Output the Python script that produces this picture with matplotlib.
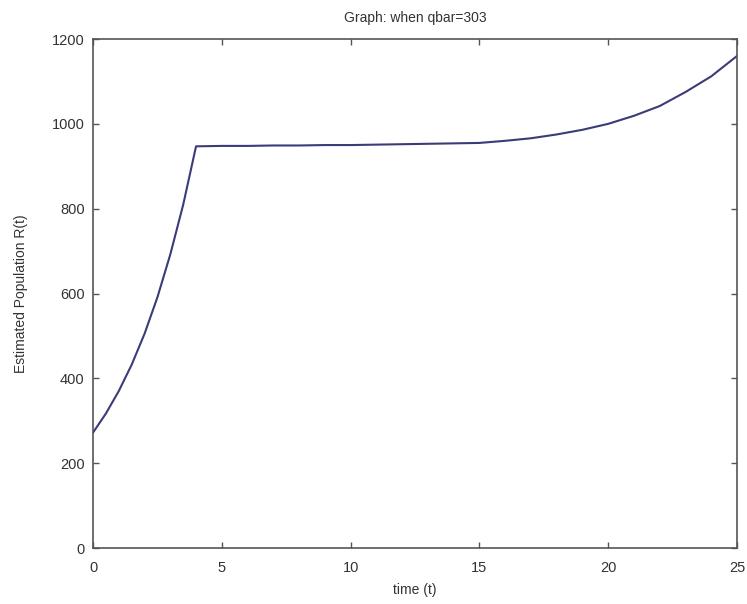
import matplotlib
matplotlib.use("Agg")
import matplotlib.pyplot as plt

# values
t_vals = [0, 0.5, 1, 1.5, 2, 2.5, 3, 3.5, 4,
          5, 6, 7, 8, 9, 10, 11, 12, 13, 14,
          15, 16, 17, 18, 19, 20, 21, 22, 23, 24, 25]
R_vals = [272, 317, 370, 432, 505, 591, 692, 809, 947,
          948, 948, 949, 949, 950, 950, 951, 952, 953, 954,
          955, 960, 966, 975, 986, 1000, 1019, 1042, 1075, 1112, 1160]

xticks = [0, 5, 10, 15, 20, 25]
yticks = [0, 200, 400, 600, 800, 1000, 1200]

plt.rcParams['font.family'] = ['Liberation Sans', 'DejaVu Sans']
txt = '#333333'

fig = plt.figure(figsize=(7.47, 6.04), dpi=100)
ax = fig.add_axes([0.1245, 0.0927, 0.8621, 0.8427])
ax.plot(t_vals, R_vals, color='#3b3b78', linewidth=1.5)

ax.set_xlim(0, 25)
ax.set_ylim(0, 1200)
ax.set_xticks(xticks)
ax.set_yticks(yticks)
ax.tick_params(direction='in', length=4, width=1, colors='#555555',
               labelcolor=txt, labelsize=10.5, top=True, right=True)
ax.tick_params(axis='x', pad=9)
ax.tick_params(axis='y', pad=6)
for s in ax.spines.values():
    s.set_color('#555555')
    s.set_linewidth(1.2)

ax.set_title('Graph: when qbar=303', fontsize=10, color=txt, pad=12)
ax.set_xlabel('time (t)', fontsize=10, color=txt, labelpad=6)
ax.set_ylabel('Estimated Population R(t)', fontsize=10, color=txt, labelpad=17)

fig.savefig('out.png', dpi=100)
plt.close(fig)
